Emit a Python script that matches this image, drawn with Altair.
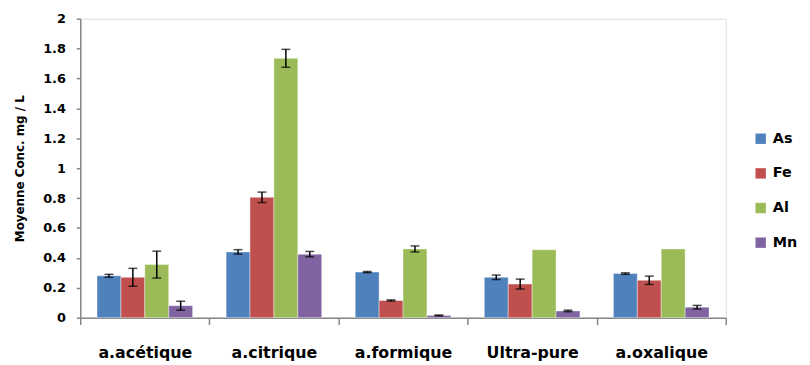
import altair as alt
import pandas as pd

categories = ["a.acétique", "a.citrique", "a.formique", "Ultra-pure", "a.oxalique"]
elements = ["As", "Fe", "Al", "Mn"]
colors = ["#4F81BD", "#C0504D", "#9BBB59", "#8064A2"]

as_vals = [0.28, 0.44, 0.305, 0.27, 0.295]
as_err = [0.01, 0.015, 0.004, 0.015, 0.005]
fe_vals = [0.27, 0.805, 0.115, 0.225, 0.25]
fe_err = [0.06, 0.035, 0.004, 0.033, 0.028]
al_vals = [0.355, 1.735, 0.46, 0.455, 0.46]
al_err = [0.09, 0.06, 0.02, 0.0, 0.0]
mn_vals = [0.08, 0.425, 0.015, 0.045, 0.07]
mn_err = [0.03, 0.018, 0.003, 0.005, 0.012]
y_ticks = [0, 0.2, 0.4, 0.6, 0.8, 1, 1.2, 1.4, 1.6, 1.8, 2]

series = {"As": (as_vals, as_err), "Fe": (fe_vals, fe_err),
          "Al": (al_vals, al_err), "Mn": (mn_vals, mn_err)}

rows = []
for el in elements:
    vals, errs = series[el]
    for c, v, e in zip(categories, vals, errs):
        rows.append({"cat": c, "el": el, "v": v, "e": e, "lo": v - e, "hi": v + e})
df = pd.DataFrame(rows)

FONT = "DejaVu Sans"

x = alt.X("cat:N", sort=categories, title=None,
          scale=alt.Scale(paddingInner=0, paddingOuter=0),
          axis=alt.Axis(labelAngle=0, labelFontSize=16, labelFontWeight="bold",
                        labelColor="black", tickBand="extent", tickSize=7,
                        labelPadding=20, domainColor="#868686", tickColor="#868686",
                        domainWidth=1.5, tickWidth=1.5, labelFont=FONT))
xo = alt.XOffset("el:N", sort=elements,
                 scale=alt.Scale(paddingInner=0, paddingOuter=0.7))
y_axis = alt.Axis(values=y_ticks, format=".1~f",
                  labelFontSize=13, labelFontWeight="bold", labelColor="black",
                  labelOverlap=False, labelFlush=False,
                  tickSize=4, labelPadding=11, domainColor="#868686",
                  tickColor="#868686", domainWidth=1.5, tickWidth=1.5,
                  grid=False, title="Moyenne Conc. mg / L", titleFontSize=12,
                  titleFontWeight="bold", titleColor="black", titlePadding=16,
                  labelFont=FONT, titleFont=FONT)
y_scale = alt.Scale(domain=[0, 2], nice=False)


def Y(field):
    return alt.Y(field, scale=y_scale, axis=y_axis, title="Moyenne Conc. mg / L")


bars = alt.Chart(df).mark_bar(stroke="white", strokeWidth=0.8, strokeOpacity=0.5).encode(
    x=x, xOffset=xo,
    y=Y("v:Q"),
    color=alt.Color("el:N", sort=elements,
                    scale=alt.Scale(domain=elements, range=colors),
                    legend=alt.Legend(title=None, orient="none", legendX=680, legendY=114,
                                      symbolType="square", symbolSize=110,
                                      symbolStrokeWidth=0, labelFontSize=14.5,
                                      labelFontWeight="bold", labelColor="black",
                                      labelFont=FONT, rowPadding=20, labelOffset=5,
                                      padding=0)),
)

err_df = df[df["e"] > 0]
rules = alt.Chart(err_df).mark_rule(color="black", strokeWidth=1.5).encode(
    x=x, xOffset=xo, y=Y("lo:Q"), y2="hi:Q")
caps_lo = alt.Chart(err_df).mark_tick(color="black", size=9, thickness=1.5).encode(
    x=x, xOffset=xo, y=Y("lo:Q"))
caps_hi = alt.Chart(err_df).mark_tick(color="black", size=9, thickness=1.5).encode(
    x=x, xOffset=xo, y=Y("hi:Q"))

chart = alt.layer(bars, rules, caps_lo, caps_hi).properties(
    width=652, height=302,
    autosize=alt.AutoSizeParams(type="none"),
    padding={"left": 73, "top": 9, "right": 77, "bottom": 46},
).configure_view(stroke=None).configure(font=FONT)

chart.save("out.html", embed_options={"renderer": "svg", "actions": False})
